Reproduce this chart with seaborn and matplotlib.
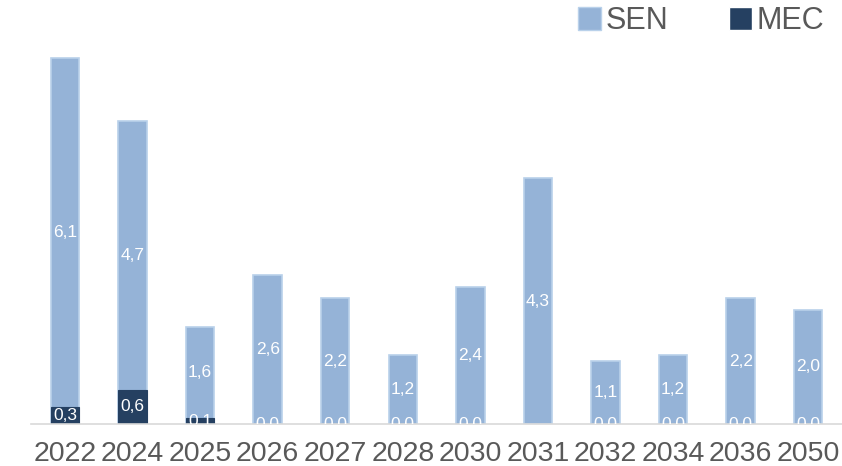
import numpy as np
import pandas as pd
import matplotlib
matplotlib.use("Agg")
import matplotlib.pyplot as plt
import seaborn as sns
from matplotlib.patches import Patch

years = ["2022", "2024", "2025", "2026", "2027", "2028", "2030", "2031", "2032", "2034", "2036", "2050"]
sen = [6.1, 4.7, 1.6, 2.6, 2.2, 1.2, 2.4, 4.3, 1.1, 1.2, 2.2, 2.0]
mec = [0.3, 0.6, 0.1, 0.0, 0.0, 0.0, 0.0, np.nan, 0.0, 0.0, 0.0, 0.0]

sen_col = "#95B3D7"
mec_col = "#254061"

sns.set_style("white")
plt.rcParams["font.family"] = ["Liberation Sans", "DejaVu Sans"]

df = pd.DataFrame({"year": years, "SEN": sen, "MEC": mec})
df["total"] = df["SEN"] + df["MEC"].fillna(0)

fig = plt.figure(figsize=(8.42, 4.66), dpi=100)
ax = fig.add_axes([0.037, 0.09, 0.963, 0.859])

# stacked: total bar first, MEC drawn over it
sns.barplot(data=df, x="year", y="total", color=sen_col, saturation=1,
            width=0.42, edgecolor="#B9D1EA", linewidth=1.2, ax=ax)
sns.barplot(data=df.dropna(), x="year", y="MEC", color=mec_col, saturation=1,
            width=0.42, edgecolor=mec_col, linewidth=0.8, ax=ax, order=years)

for i, row in df.iterrows():
    m = 0 if np.isnan(row["MEC"]) else row["MEC"]
    ax.text(i, m + row["SEN"] / 2, f"{row['SEN']:.1f}".replace(".", ","),
            ha="center", va="center", color="white", fontsize=12.5)
    if not np.isnan(row["MEC"]):
        ax.text(i, m / 2, f"{m:.1f}".replace(".", ","),
                ha="center", va="center", color="white", fontsize=12.5, clip_on=True)

ax.set_ylim(0, 7)
ax.set_xlim(-0.5, 11.5)
ax.set_xlabel("")
ax.set_ylabel("")
ax.set_yticks([])
ax.tick_params(axis="x", labelsize=20.5, colors="#595959", length=0, pad=12)
for s in ["top", "right", "left"]:
    ax.spines[s].set_visible(False)
ax.spines["bottom"].set_color("#D9D9D9")
ax.spines["bottom"].set_linewidth(1.2)

handles = [Patch(facecolor=sen_col, edgecolor="#B9D1EA"), Patch(facecolor=mec_col)]
fig.legend(handles, ["SEN", "MEC"], loc="center right", bbox_to_anchor=(1.012, 0.955),
           ncol=2, frameon=False, fontsize=22, labelcolor="#595959",
           handlelength=0.75, handleheight=0.75, handletextpad=0.15, columnspacing=2.0)

fig.savefig("out.png", dpi=100)
